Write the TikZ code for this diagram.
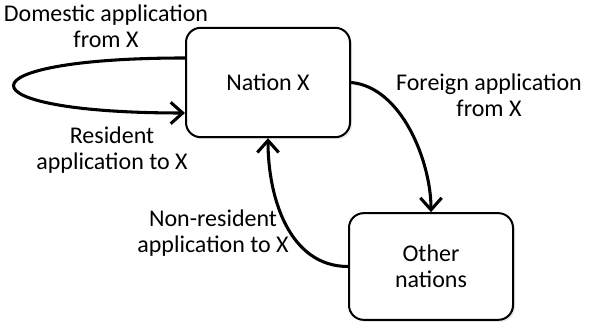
\documentclass[tikz,border=0pt]{standalone}
\usepackage{fontspec}
\setmainfont{Carlito}
\usetikzlibrary{calc,arrows.meta,shadows}
\tikzset{
	nationbox/.style={draw, line width=1.5pt, rounded corners=11pt, fill=white, align=center,
		font=\fontsize{18}{19.5}\selectfont,
		drop shadow={opacity=0.2, shadow xshift=1.5pt, shadow yshift=-1.5pt}},
	flowarrow/.style={line width=2.3pt, -{Straight Barb[length=9pt, width=16pt]}},
	flowlabel/.style={align=center, font=\fontsize{18}{19.5}\selectfont}
}

\begin{document}
\begin{tikzpicture}[x=0.75pt, y=0.75pt]
	%%%%% START %%%%%
	\useasboundingbox (0, 0) rectangle (592, 327);
	
	% the two nations
	\node[nationbox, minimum width=123pt, minimum height=82pt] (nation) at (268, 244.5) {Nation X};
	\node[nationbox, minimum width=123pt, minimum height=80pt] (other) at (431, 60.5) {Other\\nations};
	
	% loop back into nation X
	\coordinate (loopout) at ($(nation.west)+(0, 24.5)$);
	\coordinate (loopin) at ($(nation.west)+(0, -30.5)$);
	\draw[flowarrow] (loopout) .. controls +(-228, 0) and +(-228, 0) .. (loopin);
	
	\draw[flowarrow] (nation.east) to[out=-5, in=90, looseness=0.85] (other.north);
	\draw[flowarrow] (other.west) to[out=180, in=-90] (nation.south);
	
	% labels
	\node[flowlabel] (domestic) at (106, 301) {Domestic application\\from X};
	\node[flowlabel] (resident) at (112, 177) {Resident\\application to X};
	\node[flowlabel] (foreign) at (489, 232) {Foreign application\\from X};
	\node[flowlabel] (nonresident) at (213, 94) {Non-resident\\application to X};
	
	%%%%% END %%%%%
\end{tikzpicture}
\end{document}
